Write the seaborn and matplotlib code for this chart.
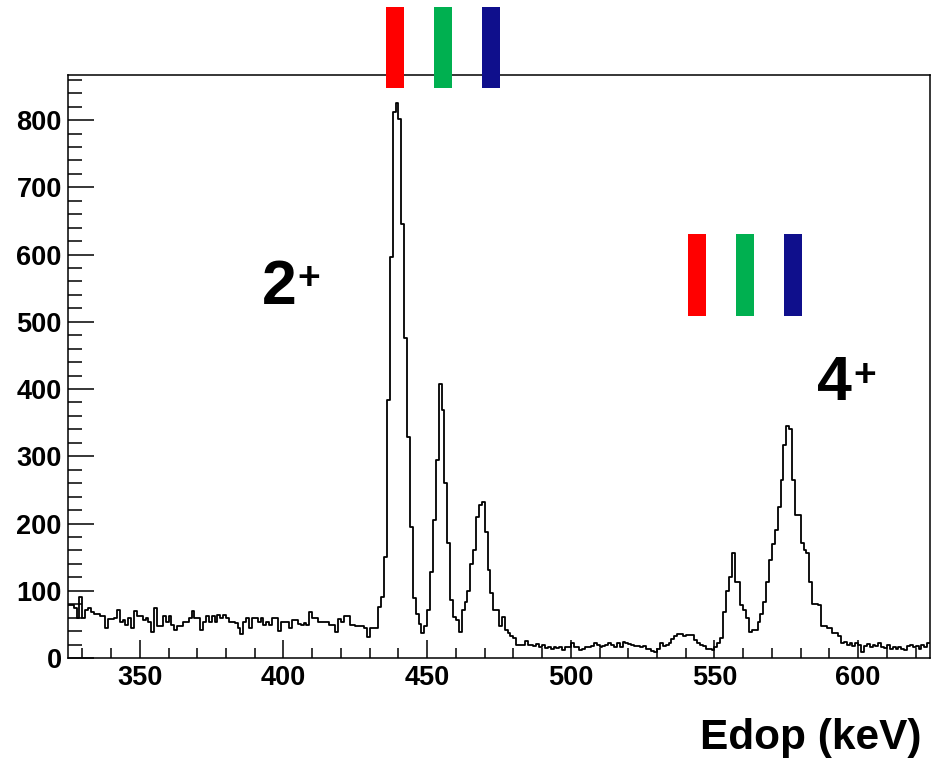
import numpy as np
import pandas as pd
import matplotlib
matplotlib.use("Agg")
import matplotlib.pyplot as plt
from matplotlib.patches import Rectangle
from matplotlib.ticker import MultipleLocator
import seaborn as sns

# Doppler corrected spectrum, 1 keV bins from 325 to 625 keV
e_start, e_stop = 325, 625
counts = [
    79, 79, 74, 59, 91, 59, 71, 74, 69, 65,      # 325
    65, 63, 62, 44, 58, 58, 59, 71, 54, 57,      # 335
    49, 59, 44, 70, 62, 62, 57, 60, 54, 39,      # 345
    74, 47, 47, 62, 54, 62, 49, 42, 48, 48,      # 355
    53, 53, 59, 70, 59, 59, 42, 54, 62, 54,      # 365
    62, 54, 64, 60, 64, 59, 54, 54, 52, 44,      # 375
    35, 54, 60, 44, 59, 59, 54, 60, 49, 54,      # 385
    49, 59, 59, 40, 54, 54, 54, 44, 57, 57,      # 395
    50, 49, 52, 49, 69, 59, 59, 54, 54, 54,      # 405
    54, 49, 49, 39, 58, 54, 63, 63, 49, 49,      # 415
    47, 47, 47, 44, 31, 45, 45, 45, 76, 90,      # 425
    150, 384, 597, 812, 825, 801, 646, 476, 329, 195,  # 435
    89, 66, 50, 37, 47, 71, 128, 205, 294, 408,  # 445
    369, 260, 171, 86, 61, 56, 39, 71, 84, 99,   # 455
    140, 160, 210, 228, 232, 188, 131, 96, 72, 72,  # 465
    47, 61, 42, 37, 32, 29, 20, 20, 20, 25,      # 475
    19, 19, 18, 21, 16, 19, 15, 16, 14, 17,      # 485
    15, 16, 12, 16, 17, 22, 17, 17, 12, 13,      # 495
    16, 16, 18, 22, 19, 17, 18, 20, 23, 19,      # 505
    17, 23, 16, 24, 23, 21, 19, 18, 18, 17,      # 515
    18, 14, 14, 11, 9, 14, 22, 18, 20, 23,       # 525
    28, 33, 36, 36, 33, 34, 34, 34, 27, 22,      # 535
    20, 18, 14, 14, 12, 17, 22, 30, 69, 99,      # 545
    121, 156, 113, 113, 79, 71, 59, 39, 42, 42,  # 555
    54, 66, 84, 113, 146, 170, 190, 225, 265, 317,  # 565
    345, 340, 265, 213, 213, 171, 160, 156, 113, 81,  # 575
    81, 79, 47, 47, 44, 44, 37, 37, 32, 22,      # 585
    24, 20, 22, 18, 22, 19, 9, 18, 21, 16,       # 595
    20, 18, 22, 17, 15, 19, 14, 16, 13, 17,      # 605
    14, 12, 18, 20, 16, 18, 13, 19, 17, 22,      # 615
]
bin_width = 1
spec = pd.DataFrame({
    "edop": np.arange(e_start, e_stop, bin_width) + bin_width / 2,
    "counts": counts,
})

x_ticks = [350, 400, 450, 500, 550, 600]
y_ticks = [0, 100, 200, 300, 400, 500, 600, 700, 800]

# gate markers above the 2+ and 4+ groups (pixel boxes: left edges)
bar_colors = ["#ff0000", "#00b050", "#0f0f8c"]
top_bar_left = [386, 434, 482]
low_bar_left = [688, 736, 784]

W, H = 936, 758
sns.set_style("white")
plt.rcParams["font.family"] = ["Liberation Sans", "DejaVu Sans"]
plt.rcParams["font.weight"] = "bold"
plt.rcParams["text.color"] = "black"
plt.rcParams["xtick.color"] = "black"
plt.rcParams["ytick.color"] = "black"

fig = plt.figure(figsize=(W / 100, H / 100), dpi=100)
ax = fig.add_axes([68 / W, 1 - 658 / H, (930 - 68) / W, (658 - 75) / H])

sns.histplot(data=spec, x="edop", weights="counts", binwidth=bin_width,
             binrange=(e_start, e_stop), element="step", fill=False,
             color="black", linewidth=1.3, ax=ax)

ax.set_xlim(e_start, e_stop)
ax.set_ylim(0, 867)
ax.set_xticks(x_ticks)
ax.set_yticks(y_ticks)
ax.xaxis.set_minor_locator(MultipleLocator(10))
ax.yaxis.set_minor_locator(MultipleLocator(20))
ax.set_xlabel("")
ax.set_ylabel("")
for s in ax.spines.values():
    s.set_visible(True)
    s.set_color("black")
    s.set_linewidth(1.1)
ax.tick_params(axis="x", which="major", direction="in", length=13, width=1.1,
               pad=5, labelsize=19.5, bottom=True, top=False, colors="black")
ax.tick_params(axis="x", which="minor", direction="in", length=7, width=1.1,
               bottom=True, top=False, colors="black")
ax.tick_params(axis="y", which="major", direction="in", length=19, width=1.1,
               pad=4.5, labelsize=19.5, left=True, right=False, colors="black")
ax.tick_params(axis="y", which="minor", direction="in", length=10, width=1.1,
               left=True, right=False, colors="black")
for lbl in ax.get_xticklabels() + ax.get_yticklabels():
    lbl.set_fontweight("bold")

# coloured gate bars
for left, col in zip(top_bar_left, bar_colors):
    fig.add_artist(Rectangle((left / W, 1 - 88 / H), 18 / W, 81 / H,
                             transform=fig.transFigure, color=col, lw=0, zorder=5))
for left, col in zip(low_bar_left, bar_colors):
    fig.add_artist(Rectangle((left / W, 1 - 316 / H), 18 / W, 82 / H,
                             transform=fig.transFigure, color=col, lw=0, zorder=5))

# spin labels
fig.text(262 / W, 1 - 304 / H, "2", fontsize=45, fontweight="bold", va="baseline")
fig.text(297 / W, 1 - 289 / H, "+", fontsize=28, fontweight="bold", va="baseline")
fig.text(817 / W, 1 - 400 / H, "4", fontsize=45, fontweight="bold", va="baseline")
fig.text(853 / W, 1 - 386 / H, "+", fontsize=28, fontweight="bold", va="baseline")

fig.text(921 / W, 1 - 749 / H, "Edop (keV)", fontsize=30.5, fontweight="bold",
         ha="right", va="baseline")

fig.savefig("out.png", dpi=100)
